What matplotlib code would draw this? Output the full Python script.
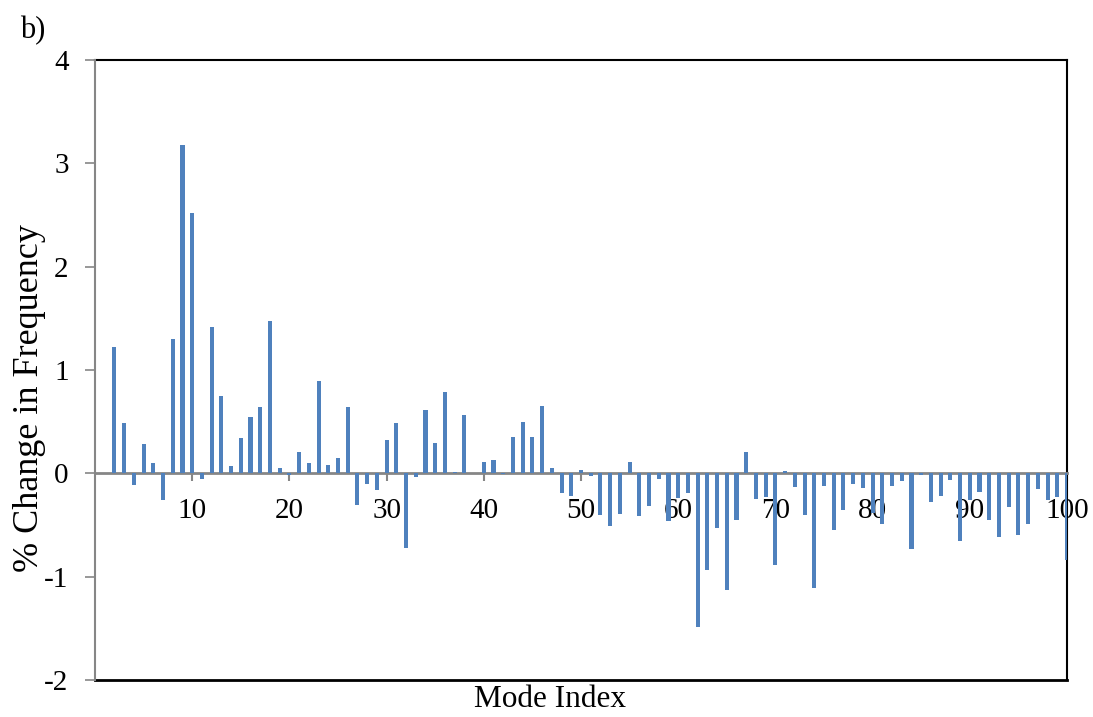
import matplotlib
matplotlib.use('Agg')
import matplotlib.pyplot as plt
import numpy as np

plt.rcParams['font.family'] = ['Liberation Serif', 'DejaVu Serif']
plt.rcParams['axes.unicode_minus'] = False

# percent change in natural frequency for modes 2..100
modes = np.arange(2, 101)
change = [1.22, 0.49, -0.11, 0.28, 0.10, -0.26, 1.30, 3.18, 2.52,          # 2-10
          -0.05, 1.42, 0.75, 0.07, 0.34, 0.55, 0.64, 1.47, 0.05, -0.02,    # 11-20
          0.21, 0.10, 0.89, 0.08, 0.15, 0.64, -0.31, -0.10, -0.16, 0.32,   # 21-30
          0.49, -0.72, -0.04, 0.61, 0.29, 0.79, 0.01, 0.56, 0.0, 0.11,     # 31-40
          0.13, -0.01, 0.355, 0.50, 0.355, 0.65, 0.05, -0.19, -0.22, 0.03,  # 41-50
          -0.03, -0.40, -0.51, -0.39, 0.11, -0.41, -0.32, -0.05, -0.46, -0.24,  # 51-60
          -0.19, -1.49, -0.94, -0.53, -1.13, -0.45, 0.21, -0.245, -0.23, -0.89,  # 61-70
          0.02, -0.13, -0.40, -1.11, -0.12, -0.55, -0.35, -0.10, -0.14, -0.38,  # 71-80
          -0.49, -0.12, -0.07, -0.73, -0.02, -0.28, -0.22, -0.06, -0.65, -0.26,  # 81-90
          -0.18, -0.45, -0.62, -0.33, -0.60, -0.49, -0.15, -0.26, -0.23, -0.84]  # 91-100

xticks = np.arange(10, 101, 10)
yticks = np.arange(-2, 5, 1)

axis_grey = '#868686'

fig = plt.figure(figsize=(10.93, 7.17), dpi=100)
ax = fig.add_axes([95/1093, 1 - 680/717, (1067 - 95)/1093, (680 - 60)/717])

ax.bar(modes, change, width=0.42, color='#4F81BD', zorder=3)

ax.set_xlim(0, 100)
ax.set_ylim(-2, 4)
ax.set_xticks(xticks)
ax.set_yticks(yticks)

# x axis crosses at zero, plot area keeps a black frame
ax.spines['bottom'].set_position(('data', 0))
ax.spines['bottom'].set_color(axis_grey)
ax.spines['bottom'].set_linewidth(2)
ax.spines['left'].set_color(axis_grey)
ax.spines['left'].set_linewidth(1.5)
ax.spines['left'].set_zorder(4)
for side in ['top', 'right']:
    ax.spines[side].set_color('black')
    ax.spines[side].set_linewidth(1.5)
ax.axhline(-2, color='black', lw=2, clip_on=False, zorder=2)

ax.tick_params(axis='x', direction='out', length=6, width=1.5, color=axis_grey,
               labelsize=21, pad=12)
ax.tick_params(axis='y', direction='out', length=7, width=1.2, color=axis_grey,
               labelsize=21, pad=12)

ax.set_ylabel('% Change in Frequency', fontsize=26)
ax.yaxis.set_label_coords(-0.067, 0.455)
ax.yaxis.label.set_va('center')
ax.set_xlabel('Mode Index', fontsize=22.5)
ax.xaxis.set_label_coords(0.468, -0.032)
ax.xaxis.label.set_va('center')

fig.text(20/1093, 1 - 31/717, 'b)', fontsize=22, va='center', ha='left')

fig.savefig('out.png', dpi=100)
